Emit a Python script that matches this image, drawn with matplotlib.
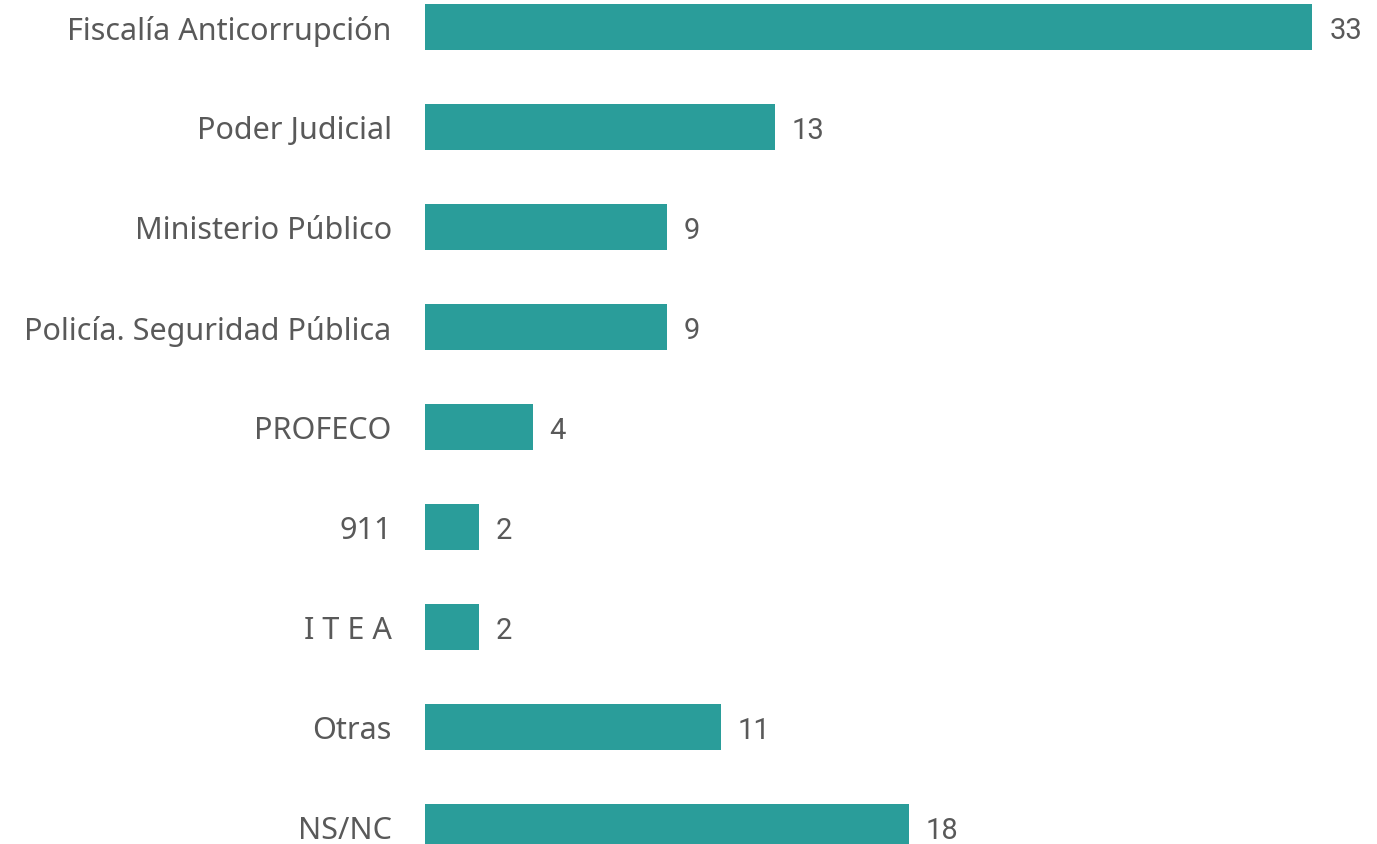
import matplotlib
matplotlib.use("Agg")
import matplotlib.pyplot as plt

categorias = ["Fiscalía Anticorrupción", "Poder Judicial", "Ministerio Público",
              "Policía. Seguridad Pública", "PROFECO", "911", "I T E A", "Otras", "NS/NC"]
valores = [33, 13, 9, 9, 4, 2, 2, 11, 18]

color_barra = "#2a9d9a"
color_texto = "#595959"

fig = plt.figure(figsize=(13.77, 8.45), dpi=100)
ax = fig.add_axes([425 / 1377, 0, 1 - 425 / 1377, 1])

pos = list(range(len(categorias)))
ax.barh(pos, valores, height=0.46, color=color_barra)
ax.set_ylim(8.17, -0.28)
ax.set_xlim(0, 35.4)

ax.set_yticks(pos)
ax.set_yticklabels(categorias, fontsize=22, color=color_texto, family=["Noto Sans", "DejaVu Sans"])
ax.tick_params(axis="y", length=0, pad=24)
ax.set_xticks([])
for s in ax.spines.values():
    s.set_visible(False)

for i, v in enumerate(valores):
    ax.text(v + 0.62, i + 0.03, str(v), va="center", ha="left",
            fontsize=21, color=color_texto, family=["Roboto", "DejaVu Sans"])

fig.savefig("out.png", dpi=100)
